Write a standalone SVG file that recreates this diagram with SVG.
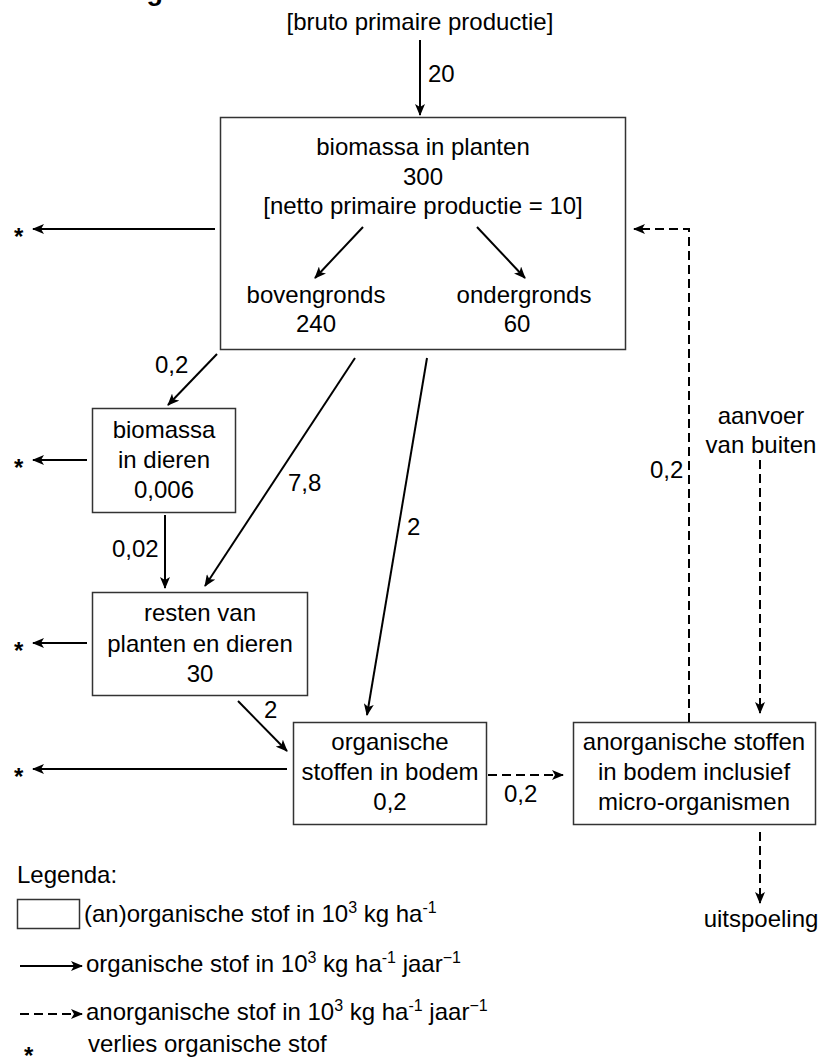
<svg xmlns="http://www.w3.org/2000/svg" width="821" height="1059" viewBox="0 0 821 1059">
<style>
text{font-family:"Liberation Sans",Arial,Helvetica,sans-serif;font-size:24px;fill:#000}
.c{text-anchor:middle}
.star{font-weight:bold}
.sup{font-size:16px}
.box{fill:#fff;stroke:#333;stroke-width:1.5}
.a{fill:none;stroke:#000;stroke-width:2;marker-end:url(#ah)}
.d{fill:none;stroke:#000;stroke-width:2;stroke-dasharray:9 5;marker-end:url(#ah)}
.title{font-weight:bold;font-size:27px}
</style>
<defs>
<marker id="ah" viewBox="0 0 12 10" refX="11" refY="5" markerWidth="12" markerHeight="10" markerUnits="userSpaceOnUse" orient="auto">
<path d="M0,0 L12,5 L0,10 L3,5 z" fill="#000" stroke="none"/>
</marker>
</defs>
<rect width="821" height="1059" fill="#fff"/>
<text class="title" x="163" y="0" text-anchor="end">afbeelding</text>

<g id="node-bruto"><text class="c" x="420" y="30">[bruto primaire productie]</text></g>

<g id="node-planten">
<rect class="box" x="220.5" y="117.5" width="405" height="232"/>
<text class="c" x="423" y="155">biomassa in planten</text>
<text class="c" x="423" y="185">300</text>
<text class="c" x="423" y="214">[netto primaire productie = 10]</text>
<text class="c" x="316" y="303">bovengronds</text>
<text class="c" x="316" y="332">240</text>
<text class="c" x="524" y="303">ondergronds</text>
<text class="c" x="517" y="332">60</text>
</g>

<g id="node-dieren">
<rect class="box" x="92.5" y="408.5" width="143" height="104"/>
<text class="c" x="164" y="438">biomassa</text>
<text class="c" x="164" y="468">in dieren</text>
<text class="c" x="164" y="498">0,006</text>
</g>

<g id="node-resten">
<rect class="box" x="92.5" y="592.5" width="215" height="103"/>
<text class="c" x="200" y="621">resten van</text>
<text class="c" x="200" y="652">planten en dieren</text>
<text class="c" x="200" y="682">30</text>
</g>

<g id="node-organisch">
<rect class="box" x="293.5" y="722.5" width="193" height="102"/>
<text class="c" x="390" y="750">organische</text>
<text class="c" x="390" y="780">stoffen in bodem</text>
<text class="c" x="390" y="810">0,2</text>
</g>

<g id="node-anorganisch">
<rect class="box" x="573.5" y="722.5" width="242" height="102"/>
<text class="c" x="694" y="750">anorganische stoffen</text>
<text class="c" x="694" y="780">in bodem inclusief</text>
<text class="c" x="694" y="810">micro-organismen</text>
</g>

<g id="node-aanvoer">
<text class="c" x="761" y="424">aanvoer</text>
<text class="c" x="761" y="453">van buiten</text>
</g>

<g id="node-uitspoeling"><text class="c" x="761" y="927">uitspoeling</text></g>

<g id="loss-planten"><text class="star" x="14" y="245">*</text></g>
<g id="loss-dieren"><text class="star" x="14" y="476">*</text></g>
<g id="loss-resten"><text class="star" x="14" y="659">*</text></g>
<g id="loss-organisch"><text class="star" x="14" y="785">*</text></g>

<g id="connectors">
<line class="a" x1="420" y1="40" x2="420" y2="115"/>
<text x="428" y="82">20</text>
<line class="a" x1="215" y1="229" x2="33" y2="229"/>
<line class="a" x1="363" y1="227" x2="315" y2="278"/>
<line class="a" x1="477" y1="227" x2="525" y2="278"/>
<line class="a" x1="217" y1="354" x2="168" y2="405"/>
<text x="155" y="373">0,2</text>
<line class="a" x1="355" y1="358" x2="205" y2="586"/>
<text x="288" y="491">7,8</text>
<line class="a" x1="427" y1="358" x2="367" y2="715"/>
<text x="407" y="535">2</text>
<line class="a" x1="87" y1="460" x2="33" y2="460"/>
<line class="a" x1="165" y1="515" x2="165" y2="588"/>
<text x="112" y="557">0,02</text>
<line class="a" x1="87" y1="643" x2="33" y2="643"/>
<line class="a" x1="238" y1="701" x2="287" y2="751"/>
<text x="264" y="718">2</text>
<line class="a" x1="287" y1="769" x2="33" y2="769"/>
<line class="d" x1="488" y1="775" x2="563" y2="775"/>
<text x="504" y="802">0,2</text>
<polyline class="d" points="689,722 689,229 634,229"/>
<text x="650" y="478">0,2</text>
<line class="d" x1="760" y1="460" x2="760" y2="713"/>
<line class="d" x1="760" y1="832" x2="760" y2="903"/>
</g>

<g id="legend">
<text x="17" y="883">Legenda:</text>
<rect class="box" x="17.5" y="899.5" width="62" height="29"/>
<text x="84" y="922">(an)organische stof in 10<tspan class="sup" dy="-9">3</tspan><tspan dy="9"> kg ha</tspan><tspan class="sup" dy="-9">-1</tspan></text>
<line class="a" x1="20" y1="966" x2="82" y2="966"/>
<text x="86" y="972">organische stof in 10<tspan class="sup" dy="-9">3</tspan><tspan dy="9"> kg ha</tspan><tspan class="sup" dy="-9">-1</tspan><tspan dy="9"> jaar</tspan><tspan class="sup" dy="-9">−1</tspan></text>
<line class="d" x1="20" y1="1014" x2="82" y2="1014"/>
<text x="86" y="1020">anorganische stof in 10<tspan class="sup" dy="-9">3</tspan><tspan dy="9"> kg ha</tspan><tspan class="sup" dy="-9">-1</tspan><tspan dy="9"> jaar</tspan><tspan class="sup" dy="-9">−1</tspan></text>
<text class="star" x="24" y="1064">*</text>
<text x="88" y="1052">verlies organische stof</text>
</g>
</svg>
